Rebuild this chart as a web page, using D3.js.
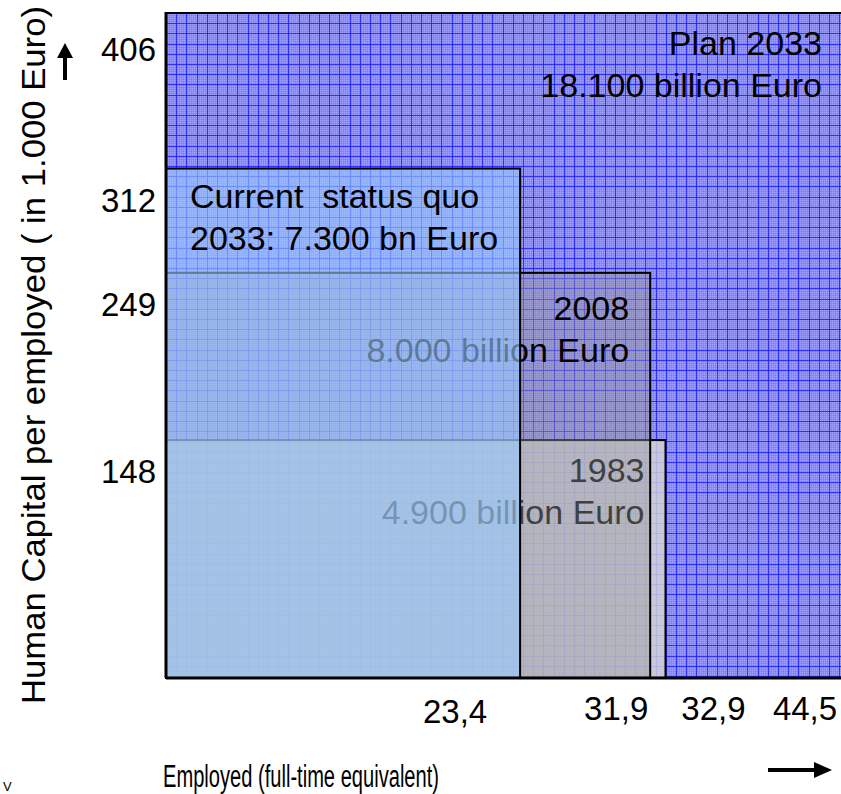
<!DOCTYPE html>
<html>
<head>
<meta charset="utf-8">
<script src="https://cdn.jsdelivr.net/npm/d3@7"></script>
<style>
  html, body { margin: 0; padding: 0; background: #fff; }
  svg { display: block; font-family: "Liberation Sans", Arial, sans-serif; }
  text { white-space: pre; }
</style>
</head>
<body>
<svg id="chart" width="841" height="794"></svg>
<script>
// Scenarios, drawn back to front
const scenarios   = ["Plan 2033", "1983", "2008", "Status quo 2033"];
const employed    = [44.5, 32.9, 31.9, 23.4];   // million, full-time equivalent
const capitalPer  = [406, 148, 249, 312];       // thousand Euro per employed
const titleLines  = ["Plan 2033", "1983", "2008", "Current  status quo"];
const totalLines  = ["18.100 billion Euro", "4.900 billion Euro", "8.000 billion Euro", "2033: 7.300 bn Euro"];

// Axis ticks
const yTicks = [406, 312, 249, 148];
const xTicks = [23.4, 31.9, 32.9, 44.5];

const W = 841, H = 794;
const left = 166, bottom = 678;

const x = d3.scaleLinear().domain([0, 44.5]).range([162, 843]);
const y = d3.scaleLinear().domain([0, 406]).range([685, 13]);

const de = d3.formatLocale({ decimal: ",", thousands: ".", grouping: [3], currency: ["", " €"] });
const fmtX = de.format(".1f");
const fmtY = de.format("d");

const svg = d3.select("#chart");
const defs = svg.append("defs");

// fine dither in the plan area
const dither = defs.append("pattern")
  .attr("id", "dither").attr("patternUnits", "userSpaceOnUse")
  .attr("width", 2).attr("height", 2);
dither.append("rect").attr("width", 2).attr("height", 2).attr("fill", "#8a8aff");
dither.append("rect").attr("width", 1).attr("height", 1).attr("fill", "#a0a0ff");
dither.append("rect").attr("x", 1).attr("y", 1).attr("width", 1).attr("height", 1).attr("fill", "#7c7cf6");

const styles = [
  { fill: "url(#dither)", opacity: 1 },
  { fill: "#d6d6d6", opacity: 0.8 },
  { fill: "#999999", opacity: 0.42 },
  { fill: "#99ccff", opacity: 0.6 }
];

const data = scenarios.map((s, i) => ({
  name: s, e: employed[i], c: capitalPer[i],
  l1: titleLines[i], l2: totalLines[i], style: styles[i], i
}));

const fontSize = 34;

data.forEach(d => {
  const g = svg.append("g");
  const top = y(d.c), right = x(d.e);
  g.append("rect")
    .attr("x", left).attr("y", top)
    .attr("width", right - left).attr("height", bottom - top)
    .attr("fill", d.style.fill).attr("fill-opacity", d.style.opacity);

  if (d.i === 0) {
    // blue grid over the plan area
    defs.append("clipPath").attr("id", "planClip")
      .append("rect").attr("x", left).attr("y", top)
      .attr("width", right - left).attr("height", bottom - top);
    const grid = g.append("g").attr("clip-path", "url(#planClip)")
      .attr("stroke", "#1e1eff").attr("stroke-opacity", 0.85)
      .attr("stroke-width", 1).attr("shape-rendering", "crispEdges");
    const step = 10.2;
    d3.range(left, right, step).forEach(v =>
      grid.append("line").attr("x1", Math.round(v) + 0.5).attr("x2", Math.round(v) + 0.5)
        .attr("y1", top).attr("y2", bottom));
    d3.range(top, bottom, step).forEach(v =>
      grid.append("line").attr("y1", Math.round(v) + 0.5).attr("y2", Math.round(v) + 0.5)
        .attr("x1", left).attr("x2", right));
  }

  g.append("rect")
    .attr("x", left).attr("y", top)
    .attr("width", right - left).attr("height", bottom - top)
    .attr("fill", "none").attr("stroke", "#000").attr("stroke-width", 2);

  const isLeft = d.i === 3;
  const tx = isLeft ? left + 24 : right - 21;
  const dy1 = isLeft ? 39 : (d.i === 2 ? 47 : 42);
  g.append("text")
    .attr("x", tx).attr("y", top + dy1)
    .attr("text-anchor", isLeft ? "start" : "end")
    .attr("font-size", fontSize).attr("fill", "#000")
    .text(d.l1);
  g.append("text")
    .attr("x", tx).attr("y", top + dy1 + 42)
    .attr("text-anchor", isLeft ? "start" : "end")
    .attr("font-size", fontSize).attr("fill", "#000")
    .text(d.l2);
});

// axis lines
svg.append("line").attr("x1", left).attr("x2", W).attr("y1", bottom).attr("y2", bottom)
  .attr("stroke", "#000").attr("stroke-width", 3);
svg.append("line").attr("x1", left).attr("x2", left).attr("y1", 12).attr("y2", bottom)
  .attr("stroke", "#000").attr("stroke-width", 3);

// y tick labels, set just below each level
svg.append("g").selectAll("text").data(yTicks).join("text")
  .attr("x", 156).attr("y", d => y(d) + (d === 406 ? 48 : 43))
  .attr("text-anchor", "end").attr("font-size", 33)
  .text(d => fmtY(d));

// x tick labels, nudged apart so neighbours do not collide
const xNudge = [-65, -34, 48, -38];
const xDrop  = [3, 0, 0, 0];
svg.append("g").selectAll("text").data(xTicks).join("text")
  .attr("x", (d, i) => x(d) + xNudge[i]).attr("y", (d, i) => 720 + xDrop[i])
  .attr("text-anchor", "middle").attr("font-size", 33)
  .text(d => fmtX(d));

// axis titles
svg.append("text")
  .attr("transform", "translate(45,355) rotate(-90)")
  .attr("text-anchor", "middle").attr("font-size", 33)
  .attr("textLength", 698).attr("lengthAdjust", "spacingAndGlyphs")
  .text("Human Capital per employed ( in 1.000 Euro)");

svg.append("text")
  .attr("x", 163).attr("y", 787)
  .attr("font-size", 31)
  .attr("textLength", 276).attr("lengthAdjust", "spacingAndGlyphs")
  .text("Employed (full-time equivalent)");

svg.append("text")
  .attr("x", 3).attr("y", 791).attr("font-size", 13)
  .text("V");

// direction arrows
svg.append("path")
  .attr("d", "M65,43 L73,58 L67,58 L67,80 L63,80 L63,58 L57,58 Z")
  .attr("fill", "#000");
svg.append("path")
  .attr("d", "M832,770 L814,762 L814,768 L768,768 L768,772 L814,772 L814,778 Z")
  .attr("fill", "#000");
</script>
</body>
</html>
